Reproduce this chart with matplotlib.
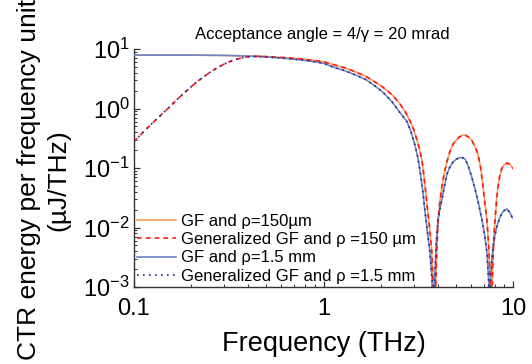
import numpy as np
import matplotlib
matplotlib.use("Agg")
import matplotlib.pyplot as plt
from matplotlib.ticker import FixedLocator, FixedFormatter, NullFormatter, LogLocator

plt.rcParams['font.family'] = ['Liberation Sans', 'DejaVu Sans']
plt.rcParams['mathtext.fontset'] = 'custom'
plt.rcParams['mathtext.rm'] = 'Liberation Sans'
plt.rcParams['mathtext.it'] = 'Liberation Sans:italic'

# GF, rho = 150 um
f_150 = [0.1, 0.2, 0.3, 0.4, 0.5, 0.6, 0.75, 0.9, 1.0, 1.12, 1.3, 1.5, 1.69, 1.85, 2.05,
         2.3, 2.52, 2.7, 2.86, 3.0, 3.11, 3.22, 3.31, 3.43, 3.52, 3.62, 3.72, 3.79, 3.85,
         3.92, 3.98, 4.02, 4.1, 4.22, 4.35, 4.49, 4.65, 4.82, 5.0, 5.2, 5.4, 5.6, 5.8,
         6.07, 6.3, 6.54, 6.75, 6.95, 7.1, 7.29, 7.45, 7.6, 7.7, 7.78, 7.84, 7.92, 8.04,
         8.2, 8.33, 8.5, 8.75, 9.0, 9.3, 9.6, 9.88, 10.0]
v_150 = [7.9, 7.9, 7.8, 7.65, 7.45, 7.2, 6.85, 6.4, 6.1, 5.5, 4.8, 4.05, 3.4, 2.85, 2.3,
         1.7, 1.22, 0.88, 0.62, 0.43, 0.30, 0.20, 0.135, 0.052, 0.024, 0.0105, 0.0042, 0.0012, 1e-6,
         0.0015, 0.006, 0.012, 0.025, 0.05, 0.085, 0.13, 0.19, 0.25, 0.29, 0.33, 0.355, 0.355, 0.335,
         0.29, 0.23, 0.17, 0.1, 0.048, 0.026, 0.013, 0.0045, 0.0011, 1e-6, 0.0013, 0.003, 0.0065, 0.0134,
         0.03, 0.048, 0.072, 0.1, 0.114, 0.121, 0.116, 0.104, 0.098]

# GF, rho = 1.5 mm
f_15 = [0.1, 0.2, 0.3, 0.4, 0.5, 0.6, 0.75, 0.9, 1.0, 1.12, 1.3, 1.5, 1.69, 1.85, 2.05,
        2.3, 2.52, 2.76, 2.9, 3.04, 3.14, 3.23, 3.33, 3.43, 3.55, 3.65, 3.74, 3.8,
        3.86, 3.93, 4.02, 4.12, 4.22, 4.35, 4.49, 4.65, 4.82, 5.0, 5.25, 5.45, 5.6, 5.79,
        6.0, 6.3, 6.6, 6.86, 7.1, 7.29, 7.45, 7.52, 7.6, 7.72, 7.84, 8.0, 8.23, 8.5,
        8.75, 9.0, 9.3, 9.6, 9.88, 10.0]
v_15 = [7.9, 7.9, 7.8, 7.6, 7.35, 7.05, 6.6, 6.1, 5.75, 5.0, 4.3, 3.6, 3.0, 2.45, 1.9,
        1.3, 0.87, 0.6, 0.4, 0.24, 0.155, 0.09, 0.045, 0.019, 0.0075, 0.0037, 0.0013, 1e-6,
        0.0013, 0.005, 0.0134, 0.021, 0.03, 0.05, 0.08, 0.105, 0.125, 0.14, 0.15, 0.148, 0.14, 0.11,
        0.078, 0.045, 0.024, 0.0134, 0.0072, 0.0037, 0.0012, 1e-6, 0.0011, 0.0027, 0.0045, 0.007, 0.0105, 0.0145,
        0.0175, 0.0195, 0.0205, 0.018, 0.015, 0.0144]

# generalized GF, low frequency part (same for both rho)
f_gen_low = [0.1, 0.11, 0.12, 0.13, 0.14, 0.15, 0.17, 0.19, 0.21, 0.23, 0.25, 0.28, 0.31, 0.34, 0.37, 0.4, 0.45]
v_gen_low = [0.28, 0.38, 0.5, 0.64, 0.8, 0.98, 1.45, 2.0, 2.65, 3.3, 4.0, 5.0, 5.9, 6.6, 7.1, 7.4, 7.55]

labels = ["GF and ρ=150µm", "Generalized GF and ρ =150 µm",
          "GF and ρ=1.5 mm", "Generalized GF and ρ =1.5 mm"]

# generalized = GF above ~0.5 THz
f_gen_150 = f_gen_low + [f for f in f_150 if f >= 0.5]
v_gen_150 = v_gen_low + [v for f, v in zip(f_150, v_150) if f >= 0.5]
f_gen_15 = f_gen_low + [f for f in f_15 if f >= 0.5]
v_gen_15 = v_gen_low + [v for f, v in zip(f_15, v_15) if f >= 0.5]

fig = plt.figure(figsize=(5.32, 3.64), dpi=100)
ax = fig.add_axes([134/532, 1-287/364, (513-134)/532, (287-49)/364])

ax.plot(f_150, v_150, color='#F5A05A', lw=1.2, label=labels[0], zorder=2)
ax.plot(f_gen_150, v_gen_150, color='#FF1A1A', lw=1.2, dashes=(2.8, 2.5), label=labels[1], zorder=4)
ax.plot(f_15, v_15, color='#6F86C6', lw=1.2, label=labels[2], zorder=3)
ax.plot(f_gen_15, v_gen_15, color='#1F2A80', lw=1.2, dashes=(1, 2.6), label=labels[3], zorder=5)

ax.set_xscale('log')
ax.set_yscale('log')
ax.set_xlim(0.1, 10)
ax.set_ylim(1e-3, 10)

ax.xaxis.set_major_locator(FixedLocator([0.1, 1, 10]))
ax.xaxis.set_major_formatter(FixedFormatter(["0.1", "1", "10"]))
ax.xaxis.set_minor_locator(LogLocator(base=10, subs=np.arange(2, 10)))
ax.xaxis.set_minor_formatter(NullFormatter())
ax.yaxis.set_major_locator(LogLocator(base=10, numticks=10))
ax.yaxis.set_minor_locator(LogLocator(base=10, subs=np.arange(2, 10), numticks=20))
ax.yaxis.set_minor_formatter(NullFormatter())

for s in ['top', 'right']:
    ax.spines[s].set_visible(False)
for s in ['left', 'bottom']:
    ax.spines[s].set_linewidth(1.0)
    ax.spines[s].set_color('#333333')

ax.tick_params(which='major', direction='in', length=4.5, width=0.9, labelsize=17, pad=3, color='#333333')
ax.tick_params(which='minor', direction='in', length=2.3, width=0.7, color='#333333')
ax.tick_params(axis='x', which='major', pad=8)

ax.set_xlabel("Frequency (THz)", fontsize=19.5, labelpad=8)
fig.text(44/532, 1-180/364, "CTR energy per frequency unit\n(µJ/THz)", rotation=90,
         ha='center', va='center', ma='center', fontsize=19, linespacing=1.3)
fig.text(322/532, 1-35/364, "Acceptance angle = 4/γ = 20 mrad", ha='center', va='center', fontsize=12)

ax.legend(loc='lower left', bbox_to_anchor=(0, 0), frameon=False, fontsize=12,
          borderaxespad=0, borderpad=0.2, labelspacing=0.2, handlelength=2.3, handletextpad=0.3)

fig.savefig("out.png", dpi=100)
